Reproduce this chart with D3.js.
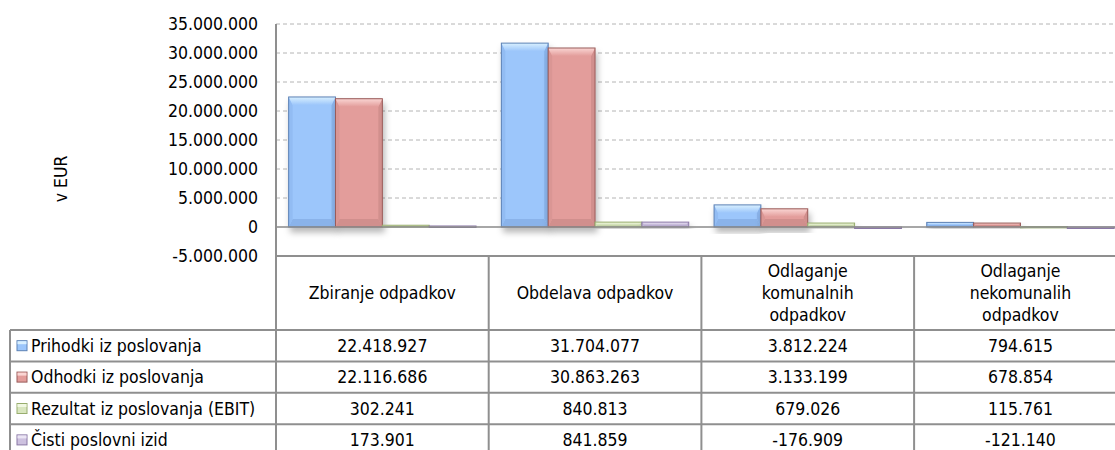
<!DOCTYPE html>
<html>
<head>
<meta charset="utf-8">
<script src="https://cdn.jsdelivr.net/npm/d3@7"></script>
<style>
  body { margin: 0; background: #fff; }
  text { font-family: "DejaVu Sans Condensed", "DejaVu Sans", sans-serif; font-stretch: condensed; fill: #000; }
</style>
</head>
<body>
<div id="chart"></div>
<script>
const categories = ["Zbiranje odpadkov", "Obdelava odpadkov", "Odlaganje komunalnih odpadkov", "Odlaganje nekomunalih odpadkov"];
const seriesNames = ["Prihodki iz poslovanja", "Odhodki iz poslovanja", "Rezultat iz poslovanja (EBIT)", "Čisti poslovni izid"];
const prihodki = [22418927, 31704077, 3812224, 794615];
const odhodki = [22116686, 30863263, 3133199, 678854];
const rezultat = [302241, 840813, 679026, 115761];
const cisti = [173901, 841859, -176909, -121140];
const yTicks = [-5000000, 0, 5000000, 10000000, 15000000, 20000000, 25000000, 30000000, 35000000];
const yLabel = "v EUR";

const width = 1115, height = 450;
const plotLeft = 276, catW = 212.7, plotTop = 24, plotBottom = 256;
const tableLeft = 10, headerBottom = 330, rowH = 31.4;
const fontSize = 17.5;

const series = [prihodki, odhodki, rezultat, cisti];

// fill, light top, dark bottom, side, border
const palette = [
  { base: "#9cc6fb", top: "#d9f0ff", bottom: "#8ab3ea", side: "#92bcf3", stroke: "#5d82b5" },
  { base: "#e39d9b", top: "#fad6d4", bottom: "#d18f8d", side: "#da9694", stroke: "#995c5a" },
  { base: "#d9e6bf", top: "#f1f8e2", bottom: "#c6d5a9", side: "#cfdeb5", stroke: "#98ad6e" },
  { base: "#cdc1df", top: "#ebe5f4", bottom: "#baadd0", side: "#c4b7d8", stroke: "#8a78a6" }
];

const fmt = v => d3.format(",")(v).replace(/,/g, ".").replace("\u2212", "-");

const svg = d3.select("#chart").append("svg")
  .attr("width", width)
  .attr("height", height);

const defs = svg.append("defs");
const shadow = defs.append("filter").attr("id", "shadow")
  .attr("x", "-20%").attr("y", "-20%").attr("width", "150%").attr("height", "150%");
shadow.append("feDropShadow")
  .attr("dx", 2).attr("dy", 5).attr("stdDeviation", 3)
  .attr("flood-color", "#000").attr("flood-opacity", 0.28);

palette.forEach((col, i) => {
  const gr = defs.append("linearGradient").attr("id", "top" + i)
    .attr("x1", 0).attr("y1", 0).attr("x2", 0).attr("y2", 1);
  gr.append("stop").attr("offset", "0%").attr("stop-color", col.top);
  gr.append("stop").attr("offset", "100%").attr("stop-color", col.base);
});

const x = d3.scaleBand()
  .domain(categories)
  .range([plotLeft, plotLeft + catW * categories.length]);

const xInner = d3.scaleBand()
  .domain(d3.range(series.length))
  .range([0, x.bandwidth()])
  .paddingOuter(0.27)
  .paddingInner(0);

const y = d3.scaleLinear()
  .domain([yTicks[0], yTicks[yTicks.length - 1]])
  .range([plotBottom, plotTop]);

// gridlines
svg.append("g").selectAll("line")
  .data(yTicks.filter(t => t > 0))
  .join("line")
  .attr("x1", plotLeft).attr("x2", width)
  .attr("y1", d => y(d)).attr("y2", d => y(d))
  .attr("stroke", "#b4b4b4")
  .attr("stroke-dasharray", "4,3");

// y axis tick labels
svg.append("g").selectAll("text")
  .data(yTicks)
  .join("text")
  .attr("x", 258)
  .attr("y", d => y(d))
  .attr("dy", "0.36em")
  .attr("text-anchor", "end")
  .style("font-size", fontSize + "px")
  .text(d => fmt(d));

svg.append("text")
  .attr("transform", "translate(61,179) rotate(-90)")
  .attr("text-anchor", "middle")
  .attr("dy", "0.36em")
  .style("font-size", fontSize + "px")
  .text(yLabel);

// bars with bevel
const barData = [];
series.forEach((vals, s) => {
  vals.forEach((v, c) => barData.push({ s, c, v }));
});

const bars = svg.append("g").selectAll("g")
  .data(barData)
  .join("g")
  .attr("filter", "url(#shadow)");

bars.each(function(d) {
  const g = d3.select(this);
  const col = palette[d.s];
  const x0 = x(categories[d.c]) + xInner(d.s);
  const x1 = x0 + xInner.bandwidth();
  const yt = Math.min(y(d.v), y(0));
  const yb = Math.max(y(d.v), y(0));
  const h = Math.max(yb - yt, 1.5);
  const bTop = Math.min(8, h / 2), bSide = Math.min(4, h / 2);
  const ybb = yt + h;
  g.append("rect")
    .attr("x", x0).attr("y", yt).attr("width", x1 - x0).attr("height", h)
    .attr("fill", col.base);
  g.append("polygon")
    .attr("points", [[x0, ybb], [x1, ybb], [x1 - bSide, ybb - bTop], [x0 + bSide, ybb - bTop]].join(" "))
    .attr("fill", col.bottom);
  g.append("polygon")
    .attr("points", [[x0, yt], [x0 + bSide, yt + bTop], [x0 + bSide, ybb - bTop], [x0, ybb]].join(" "))
    .attr("fill", col.side);
  g.append("polygon")
    .attr("points", [[x1, yt], [x1 - bSide, yt + bTop], [x1 - bSide, ybb - bTop], [x1, ybb]].join(" "))
    .attr("fill", col.bottom);
  g.append("polygon")
    .attr("points", [[x0, yt], [x1, yt], [x1 - bSide, yt + bTop], [x0 + bSide, yt + bTop]].join(" "))
    .attr("fill", `url(#top${d.s})`);
  g.append("rect")
    .attr("x", x0).attr("y", yt).attr("width", x1 - x0).attr("height", h)
    .attr("fill", "none")
    .attr("stroke", col.stroke)
    .attr("stroke-width", 1);
});

// zero line
svg.append("line")
  .attr("x1", plotLeft).attr("x2", width)
  .attr("y1", y(0)).attr("y2", y(0))
  .attr("stroke", "#8a8a8a").attr("stroke-width", 1.5);

// data table
const lineColor = "#8f8f8f";
const tbl = svg.append("g").attr("stroke", lineColor).attr("stroke-width", 2);

const rowTops = d3.range(series.length + 1).map(i => headerBottom + i * rowH);

tbl.append("line").attr("x1", plotLeft).attr("x2", width).attr("y1", plotBottom).attr("y2", plotBottom);
rowTops.forEach(ry => {
  tbl.append("line").attr("x1", tableLeft).attr("x2", width).attr("y1", ry).attr("y2", ry);
});
tbl.append("line").attr("x1", plotLeft).attr("x2", plotLeft).attr("y1", plotTop).attr("y2", height);
tbl.append("line").attr("x1", tableLeft).attr("x2", tableLeft).attr("y1", headerBottom).attr("y2", height);
categories.slice(1).forEach(c => {
  tbl.append("line").attr("x1", x(c)).attr("x2", x(c)).attr("y1", plotBottom).attr("y2", height);
});

// header texts (wrapped)
const header = svg.append("g");
categories.forEach(c => {
  const words = c.split(" ");
  const lines = [];
  let cur = [];
  const probe = header.append("text").style("font-size", fontSize + "px");
  words.forEach(w => {
    const test = cur.concat([w]).join(" ");
    probe.text(test);
    if (probe.node().getComputedTextLength() > 165 && cur.length) {
      lines.push(cur.join(" "));
      cur = [w];
    } else {
      cur.push(w);
    }
  });
  lines.push(cur.join(" "));
  probe.remove();
  const cy = (plotBottom + headerBottom) / 2;
  const lh = 22;
  const t = header.append("text")
    .attr("text-anchor", "middle")
    .style("font-size", fontSize + "px");
  lines.forEach((ln, i) => {
    t.append("tspan")
      .attr("x", x(c) + x.bandwidth() / 2)
      .attr("y", cy + (i - (lines.length - 1) / 2) * lh)
      .attr("dy", "0.36em")
      .text(ln);
  });
});

// rows
series.forEach((vals, s) => {
  const cy = rowTops[s] + rowH / 2;
  const col = palette[s];
  svg.append("rect")
    .attr("x", 17).attr("y", cy - 5).attr("width", 10).attr("height", 10)
    .attr("fill", col.base).attr("stroke", col.stroke).attr("stroke-width", 1);
  svg.append("rect")
    .attr("x", 17.5).attr("y", cy - 4.5).attr("width", 9).attr("height", 3)
    .attr("fill", col.top);
  svg.append("text")
    .attr("x", 31).attr("y", cy).attr("dy", "0.36em")
    .style("font-size", fontSize + "px")
    .text(seriesNames[s]);
  vals.forEach((v, c) => {
    svg.append("text")
      .attr("x", x(categories[c]) + x.bandwidth() / 2)
      .attr("y", cy).attr("dy", "0.36em")
      .attr("text-anchor", "middle")
      .style("font-size", fontSize + "px")
      .text(fmt(v));
  });
});
</script>
</body>
</html>
